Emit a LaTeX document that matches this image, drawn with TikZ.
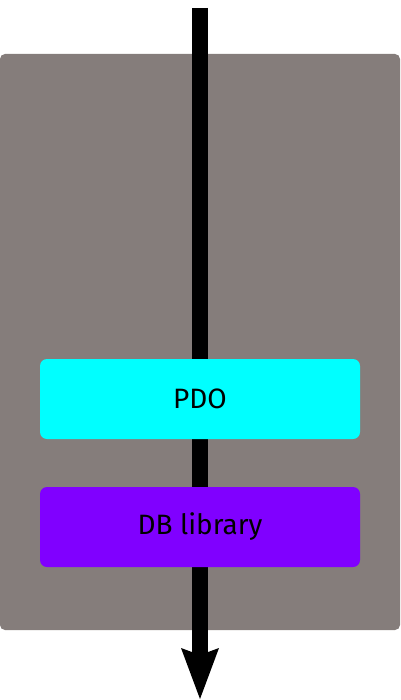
\documentclass[tikz,border=0pt]{standalone}
\usepackage{fontspec}
\setmainfont{Fira Sans}
\usetikzlibrary{arrows.meta}
\definecolor{panelgray}{HTML}{857D7B}
\definecolor{pdocyan}{HTML}{00FFFF}
\definecolor{dbpurple}{HTML}{8000FF}
\tikzset{
  layerbox/.style={minimum width=320pt, minimum height=80pt, rounded corners=7pt, inner sep=0pt, font=\fontsize{28}{32}\selectfont, text=black},
  flowarrow/.style={line width=16pt, -{Stealth[length=51pt,width=38pt,inset=7pt,line width=0pt]}}
}
\begin{document}
\begin{tikzpicture}[x=1pt,y=-1pt]
\useasboundingbox (0,0) rectangle (400,700);
\fill[panelgray, rounded corners=5pt] (0,54) rectangle (400,630);
\coordinate (start) at (200,8);
\coordinate (end) at (200,699);
\draw[flowarrow] (start) -- (end);
\node[layerbox, fill=pdocyan] (pdo) at (200,399) {PDO};
\node[layerbox, fill=dbpurple] (db) at (200,527) {DB library};
\end{tikzpicture}
\end{document}
